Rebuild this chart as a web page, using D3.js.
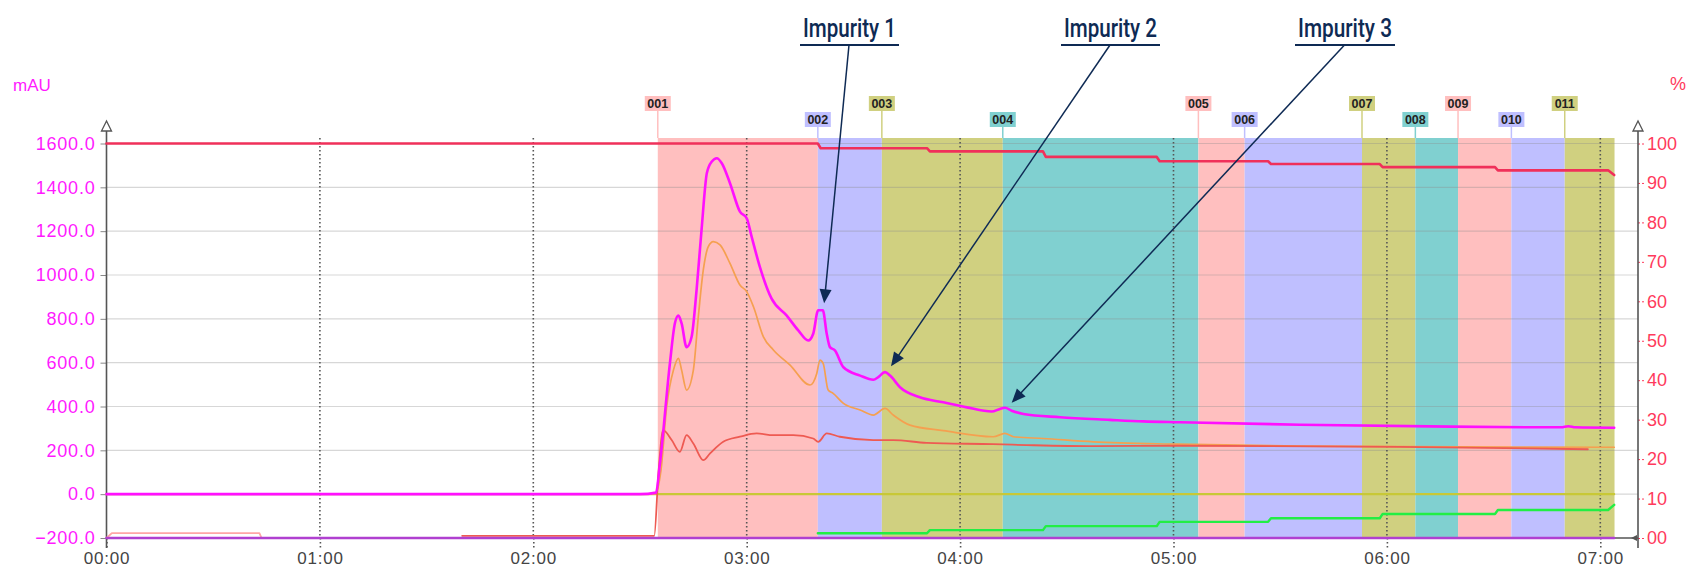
<!DOCTYPE html>
<html><head><meta charset="utf-8">
<script src="https://cdn.jsdelivr.net/npm/d3@7"></script>
<style>html,body{margin:0;padding:0;background:#fff;overflow:hidden}</style>
</head><body><svg id="chart" width="1687" height="569"></svg>
<script>
// ---------- data (time in minutes) ----------
const timeTickValues = [0, 60, 120, 180, 240, 300, 360, 420];
const timeTickLabels = ["00:00","01:00","02:00","03:00","04:00","05:00","06:00","07:00"];
const leftTickValues = [-200, 0, 200, 400, 600, 800, 1000, 1200, 1400, 1600];
const rightTickValues = [0, 10, 20, 30, 40, 50, 60, 70, 80, 90, 100];
const rightTickLabels = ["00","10","20","30","40","50","60","70","80","90","100"];

const fractionNames = ["001","002","003","004","005","006","007","008","009","010","011"];
const fractionStart = [155, 200, 218, 252, 307, 320, 353, 368, 380, 395, 410];
const fractionStop  = [200, 218, 252, 307, 320, 353, 368, 380, 395, 410, 424];
const fractionColors = ["#ffbfbf","#bfbfff","#d0d080","#80d0d0","#ffbfbf","#bfbfff","#d0d080","#80d0d0","#ffbfbf","#bfbfff","#d0d080"];
const fractionRow = [0,1,0,1,0,1,0,1,0,1,0];

// UV channel 1 (magenta, mAU)
const mainTime = [0,150,154.5,155.6,158.4,159.8,160.8,161.7,163.1,164.5,165.9,167.3,168.8,170.2,171.6,173.0,175.3,178.1,180.0,181.4,183.7,187.0,191.2,194.5,197.3,198.7,200.1,201.4,202.5,203.4,204.8,207.2,211.9,215.6,217.0,218.9,220.3,223.1,228.7,235.3,241.9,248.9,251.2,252.6,254.5,257.8,268.1,282.1,291.5,301.8,335.6,377.8,409,411,413,423.9];
const mainValues = [0,0,7,139,596,779,815,779,671,717,930,1205,1465,1518,1533,1510,1419,1289,1259,1174,1037,892,816,747,701,732,839,839,732,671,656,579,541,522,534,557,541,488,442,419,396,377,389,394,381,366,351,339,332,328,317,308,305,310,305,303];

// UV channel 2 (orange, mAU)
const secondTime = [0,154.2,155.9,157.5,159.4,160.8,161.7,163.1,165.0,166.4,167.8,169.2,170.6,172.5,175.3,178.1,180.0,181.9,184.7,187.5,192.2,197.8,199.7,200.6,201.5,202.9,204.3,207.2,211.9,215.6,218.9,221.2,225.9,235.3,249.3,252.6,255.0,263.4,277.5,300.9,335.6,423.9];
const secondValues = [0,0,110,399,566,620,566,475,566,810,1023,1129,1152,1137,1053,954,924,855,718,658,589,498,551,612,597,475,460,414,384,361,391,361,315,290,262,277,262,254,239,228,219,214];

// third trace (red-orange, mAU)
const thirdTime = [100,154,155.2,156.5,158.9,161.2,163.1,165.0,167.8,169.7,173.4,178.1,182.8,187.5,193.1,198.7,200.1,202.5,206.2,215.6,221.2,230.6,249.3,258.7,277.5,301.8,363.7,416.5];
const thirdValues = [-190,-190,100,292,247,193,269,231,155,186,239,262,277,269,269,254,239,277,262,247,247,234,228,224,219,221,216,205];

// pale trace at the start (mAU)
const paleTime = [0,1.5,43,43.6];
const paleValues = [-200,-178,-178,-200];

// gradient %A (red) and %B (green), right axis
const gradATime = [0,200,200.8,230.7,231.5,263.3,264.1,295.3,296.1,326.6,327.4,358,358.8,390.4,391.2,422.2,423.9];
const gradAValues = [100,100,98.8,98.8,98.0,98.0,96.6,96.6,95.5,95.5,94.8,94.8,94.0,94.0,93.2,93.2,92.0];
const gradBTime = [200,230.7,231.5,263.3,264.1,295.3,296.1,326.6,327.4,358,358.8,390.4,391.2,422.2,423.9];
const gradBValues = [1.2,1.2,2.0,2.0,3.0,3.0,4.1,4.1,5.0,5.0,6.1,6.1,7.1,7.1,8.4];

// flat traces
const zeroTime = [0, 423.9];
const zeroValues = [0, 0];
const bottomValues = [-200, -200];

// annotations
const impurityLabels = ["Impurity 1","Impurity 2","Impurity 3"];
const impurityTime = [201, 218.9, 252.6];
const impurityValue = [839, 557, 394];

// ---------- layout ----------
const svg = d3.select("#chart");
const x = d3.scaleLinear().domain([0, 420]).range([106.5, 1600.3]);
const yL = d3.scaleLinear().domain([-200, 1600]).range([538, 143.5]);
const yR = d3.scaleLinear().domain([0, 100]).range([538, 143.5]);
const xLeft = 106.5, xRight = 1638, yBottom = 538, regionTop = 138;

// fraction regions
svg.append("g").selectAll("rect").data(fractionNames).join("rect")
  .attr("x", (d,i) => x(fractionStart[i]))
  .attr("width", (d,i) => x(fractionStop[i]) - x(fractionStart[i]))
  .attr("y", regionTop).attr("height", yBottom - regionTop)
  .attr("fill", (d,i) => fractionColors[i]);

// fraction labels
const fl = svg.append("g");
fractionNames.forEach((d,i) => {
  const cx = x(fractionStart[i]);
  const top = fractionRow[i] ? 112 : 96;
  fl.append("line").attr("x1", cx).attr("x2", cx).attr("y1", top + 15).attr("y2", regionTop)
    .attr("stroke", fractionColors[i]).attr("stroke-width", 1.5);
  fl.append("rect").attr("x", cx - 13).attr("y", top).attr("width", 26).attr("height", 15)
    .attr("fill", fractionColors[i]);
  fl.append("text").attr("x", cx).attr("y", top + 12).attr("text-anchor", "middle")
    .attr("font-family", "Liberation Sans, Arial, sans-serif").attr("font-weight", "bold")
    .attr("font-size", 12.5).attr("fill", "#222").text(d);
});

// horizontal grid
svg.append("g").selectAll("line").data(leftTickValues.filter(v => v > -200)).join("line")
  .attr("x1", xLeft).attr("x2", xRight).attr("y1", d => yL(d)).attr("y2", d => yL(d))
  .attr("stroke", "rgba(140,140,140,0.35)").attr("stroke-width", 1.2);

// vertical dotted hour lines
svg.append("g").selectAll("line").data(timeTickValues.slice(1)).join("line")
  .attr("x1", d => x(d)).attr("x2", d => x(d)).attr("y1", regionTop).attr("y2", yBottom)
  .attr("stroke", "#555").attr("stroke-width", 1.6).attr("stroke-dasharray", "1.6,2.4");

// axes
const fontAx = "Liberation Sans, Arial, sans-serif";
const gl = svg.append("g").attr("transform", `translate(${xLeft},0)`)
  .call(d3.axisLeft(yL).tickValues(leftTickValues).tickFormat(d3.format(".1f")).tickSize(6).tickPadding(5));
gl.select(".domain").remove();
gl.selectAll(".tick line").attr("stroke", "#888");
gl.selectAll(".tick text").attr("fill", "#ff1aff").attr("font-family", fontAx).attr("font-size", 18).attr("letter-spacing", 0.8);

const gr = svg.append("g").attr("transform", `translate(${xRight},0)`)
  .call(d3.axisRight(yR).tickValues(rightTickValues).tickFormat((d,i) => rightTickLabels[i]).tickSize(6).tickPadding(3));
gr.select(".domain").remove();
gr.selectAll(".tick line").attr("stroke", "#ff3a5c").attr("stroke-dasharray", "2,2");
gr.selectAll(".tick text").attr("fill", "#ff3a5c").attr("font-family", fontAx).attr("font-size", 18);

const gb = svg.append("g").attr("transform", `translate(0,${yBottom})`)
  .call(d3.axisBottom(x).tickValues(timeTickValues).tickFormat((d,i) => timeTickLabels[i]).tickSize(10).tickPadding(4));
gb.select(".domain").remove();
gb.selectAll(".tick line").attr("stroke", "#555").attr("stroke-width", 1.6).attr("stroke-dasharray", "1.6,2.4");
gb.selectAll(".tick text").attr("fill", "#444").attr("font-family", fontAx).attr("font-size", 17).attr("letter-spacing", 0.8);

// axis lines + arrows
const axg = svg.append("g").attr("stroke", "#555").attr("stroke-width", 1.6);
axg.append("line").attr("x1", xLeft).attr("x2", xLeft).attr("y1", 128).attr("y2", 548);
axg.append("line").attr("x1", xRight).attr("x2", xRight).attr("y1", 128).attr("y2", 548);
axg.append("line").attr("x1", xLeft).attr("x2", xRight).attr("y1", yBottom).attr("y2", yBottom);
[xLeft, xRight].forEach(ax => {
  axg.append("path").attr("d", `M${ax},121 L${ax-5},131 L${ax+5},131 Z`).attr("fill", "#fff").attr("stroke-width", 1.3);
});
axg.append("path").attr("d", `M${xRight-7},${yBottom} L${xRight-1},${yBottom-3} L${xRight-1},${yBottom+3} Z`).attr("fill", "#555").attr("stroke", "none");

// unit labels
svg.append("text").attr("x", 13).attr("y", 91).attr("font-family", fontAx).attr("font-size", 17).attr("fill", "#ff1aff").text("mAU");
svg.append("text").attr("x", 1670).attr("y", 90).attr("font-family", fontAx).attr("font-size", 18).attr("fill", "#ff3a5c").text("%");

// lines
function drawLine(times, values, yScale, color, width, curve) {
  const line = d3.line().x(d => x(d[0])).y(d => yScale(d[1])).curve(curve || d3.curveLinear);
  svg.append("path").datum(times.map((t,i) => [t, values[i]]))
    .attr("d", line).attr("fill", "none").attr("stroke", color).attr("stroke-width", width)
    .attr("stroke-linejoin", "round").attr("stroke-linecap", "round");
}
drawLine(zeroTime, zeroValues, yL, "#c8c836", 2.2);
drawLine(paleTime, paleValues, yL, "#ffa6a6", 1.8);
drawLine(secondTime, secondValues, yL, "#f5a050", 1.7, d3.curveMonotoneX);
drawLine(thirdTime, thirdValues, yL, "#ee5a52", 1.8, d3.curveMonotoneX);
drawLine(mainTime, mainValues, yL, "#ff10ff", 2.6, d3.curveMonotoneX);
drawLine(gradATime, gradAValues, yR, "#f0305a", 2.6);
drawLine(gradBTime, gradBValues, yR, "#22ee44", 2.4);
drawLine(zeroTime, bottomValues, yL, "#b040d0", 2.6);

// annotations
const annX = [800, 1061, 1295];
const annW = [99, 99, 100];
const annStart = [49, 49, 49.5];
const navy = "#0e2a54";
const ag = svg.append("g");
impurityLabels.forEach((lab,i) => {
  ag.append("text").attr("x", annX[i] + 3).attr("y", 37)
    .attr("font-family", "Roboto, sans-serif").attr("font-weight", 500).attr("font-size", 25)
    .attr("textLength", annW[i] - 6).attr("lengthAdjust", "spacingAndGlyphs")
    .attr("fill", navy).text(lab);
  ag.append("line").attr("x1", annX[i]).attr("x2", annX[i] + annW[i]).attr("y1", 45).attr("y2", 45)
    .attr("stroke", navy).attr("stroke-width", 1.8);
  const sx = annX[i] + annStart[i], sy = 45;
  const px = x(impurityTime[i]), py = yL(impurityValue[i]);
  let dx = px - sx, dy = py - sy; const len = Math.hypot(dx, dy); dx /= len; dy /= len;
  const tx = px - dx * 7 + 2, ty = py - dy * 7;
  ag.append("line").attr("x1", sx).attr("y1", sy).attr("x2", tx - dx*10).attr("y2", ty - dy*10)
    .attr("stroke", navy).attr("stroke-width", 1.5);
  const bx = tx - dx * 14, by = ty - dy * 14, nx = -dy, ny = dx;
  ag.append("path").attr("d", `M${tx},${ty} L${bx + nx*6},${by + ny*6} L${bx - nx*6},${by - ny*6} Z`).attr("fill", navy);
});
</script></body></html>
